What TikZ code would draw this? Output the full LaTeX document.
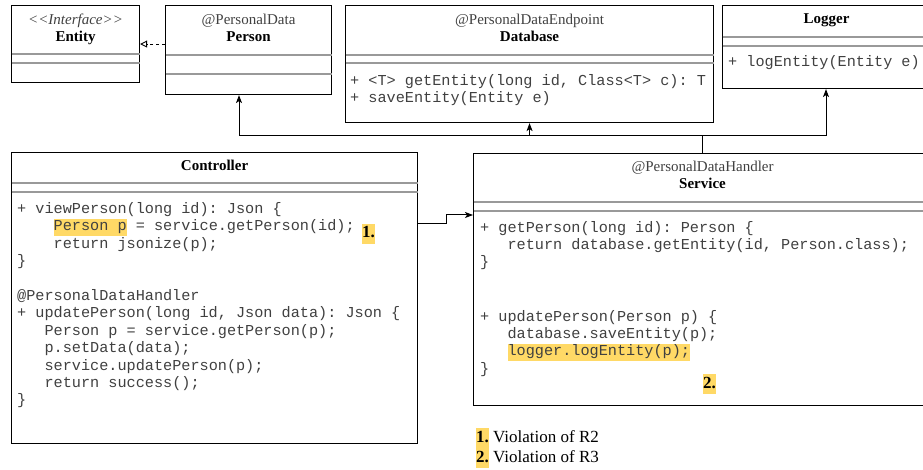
\documentclass[tikz,border=0pt]{standalone}
\usepackage{fontspec}
\setmainfont{Liberation Serif}
\setmonofont{Liberation Mono}
\usetikzlibrary{arrows.meta}

\definecolor{hlyellow}{HTML}{FFD966}
\definecolor{sepgray}{HTML}{999999}
\definecolor{codegray}{HTML}{404040}

\newcommand{\hl}[1]{{\setlength{\fboxsep}{0pt}\colorbox{hlyellow}{\strut#1}}}
\newcommand{\codefont}{\fontsize{15.2}{17.4}\selectfont\ttfamily}
\newcommand{\headfont}{\fontsize{15}{18}\selectfont}

\tikzset{
	classbox/.style={draw, line width=1.1pt, inner sep=0pt, anchor=north west},
	divider/.style={draw=sepgray, line width=1.8pt, shorten <=0.6pt, shorten >=0.6pt},
	stereo/.style={anchor=base, inner sep=0pt, font=\headfont, text=codegray},
	clsname/.style={anchor=base, inner sep=0pt, font=\headfont\bfseries},
	codeline/.style={anchor=base west, inner sep=0pt, font=\codefont, text=codegray},
	flag/.style={anchor=base west, inner sep=0pt, font=\fontsize{17}{20.4}\selectfont\bfseries},
	legendtxt/.style={anchor=base west, inner sep=0pt, font=\fontsize{17}{20.4}\selectfont},
	assoc/.style={draw, line width=1pt, -{Stealth[length=8pt, width=6pt, inset=2pt]}},
	realize/.style={draw, line width=0.9pt, dash pattern=on 3pt off 3pt, -{Triangle[open, length=7pt, width=7pt]}}
}

\begin{document}
\begin{tikzpicture}[x=1pt, y=-1pt]
		\clip (0,0) rectangle (923,470);

		% Classes
		\node[classbox, minimum width=128pt, minimum height=77pt] (entity) at (11,5) {};
		\node[classbox, minimum width=166pt, minimum height=89pt] (person) at (165,5) {};
		\node[classbox, minimum width=368pt, minimum height=117pt] (database) at (345,5) {};
		\node[classbox, minimum width=208pt, minimum height=83pt] (logger) at (722,5) {};
		\node[classbox, minimum width=406pt, minimum height=291pt] (controller) at (11,152) {};
		\node[classbox, minimum width=458pt, minimum height=252pt] (service) at (473,153) {};

		% Compartments
		\foreach \n/\a/\b in {entity/49/58, person/50/69, database/50/58, logger/32/41, controller/31/40, service/49/58} {
			\draw[divider] ([yshift=-\a pt]\n.north west) -- ([yshift=-\a pt]\n.north east);
			\draw[divider] ([yshift=-\b pt]\n.north west) -- ([yshift=-\b pt]\n.north east);
		}

		% Headers
		\node[stereo] (entity-s) at ([yshift=-20pt]entity.north) {\itshape <{}<Interface>{}>};
		\node[clsname] (entity-n) at ([yshift=-37pt]entity.north) {Entity};
		\node[stereo] (person-s) at ([yshift=-20pt]person.north) {@PersonalData};
		\node[clsname] (person-n) at ([yshift=-37pt]person.north) {Person};
		\node[stereo] (database-s) at ([yshift=-20pt]database.north) {@PersonalDataEndpoint};
		\node[clsname] (database-n) at ([yshift=-37pt]database.north) {Database};
		\node[clsname] (logger-n) at ([yshift=-19pt]logger.north) {Logger};
		\node[clsname] (controller-n) at ([yshift=-19pt]controller.north) {Controller};
		\node[stereo] (service-s) at ([yshift=-19pt]service.north) {@PersonalDataHandler};
		\node[clsname] (service-n) at ([yshift=-36pt]service.north) {Service};

		% Methods
		\node[codeline] (db1) at (350,85.5) {+ <T> getEntity(long id, Class<T> c): T};
		\node[codeline] (db2) at (350,102.5) {+ saveEntity(Entity e)};
		\node[codeline] (lg1) at (728,66.5) {+ logEntity(Entity e)};

		\node[codeline] (c1) at (17,213.5) {+ viewPerson(long id): Json \{};
		\node[codeline] (c2) at (53.5,230.9) {\hl{Person p} = service.getPerson(id);};
		\node[codeline] (c3) at (53.5,248.3) {return jsonize(p);};
		\node[codeline] (c4) at (17,265.7) {\}};
		\node[codeline] (c5) at (17,300.5) {@PersonalDataHandler};
		\node[codeline] (c6) at (17,317.9) {+ updatePerson(long id, Json data): Json \{};
		\node[codeline] (c7) at (44.4,335.3) {Person p = service.getPerson(p);};
		\node[codeline] (c8) at (44.4,352.7) {p.setData(data);};
		\node[codeline] (c9) at (44.4,370.1) {service.updatePerson(p);};
		\node[codeline] (c10) at (44.4,387.5) {return success();};
		\node[codeline] (c11) at (17,404.9) {\}};

		\node[codeline] (s1) at (480,232.5) {+ getPerson(long id): Person \{};
		\node[codeline] (s2) at (507.4,250) {return database.getEntity(id, Person.class);};
		\node[codeline] (s3) at (480,267) {\}};
		\node[codeline] (s4) at (480,321) {+ updatePerson(Person p) \{};
		\node[codeline] (s5) at (507.4,338.4) {database.saveEntity(p);};
		\node[codeline] (s6) at (507.4,355.8) {\hl{logger.logEntity(p);}};
		\node[codeline] (s7) at (480,373.2) {\}};

		% Violation marks
		\node[flag] (f1) at (362,238) {\hl{1.}};
		\node[flag] (f2) at (703,388) {\hl{2.}};

		% Connectors
		\draw[realize] (person.west |- entity.east) -- (entity.east);
		\coordinate (busL) at (239,136);
		\coordinate (busR) at (826,136);
		\draw[assoc] (service.north) |- (busL) -- (busL |- person.south);
		\draw[assoc] (service.north |- busL) -- (busR) -- (busR |- logger.south);
		\draw[assoc] (database.south |- busL) -- (database.south);
		\draw[assoc] ([yshift=-72pt]controller.north east) -| ([xshift=-27pt, yshift=-62pt]service.north west) -- ([yshift=-62pt]service.north west);

		% Legend
		\node[legendtxt] (l1) at (476,442) {\hl{\textbf{1.}} Violation of R2};
		\node[legendtxt] (l2) at (476,462) {\hl{\textbf{2.}} Violation of R3};
	\end{tikzpicture}
\end{document}
